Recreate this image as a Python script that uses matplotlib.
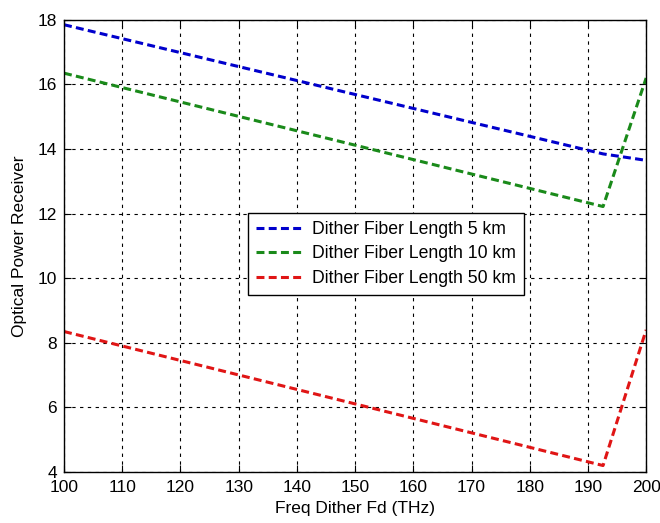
import matplotlib
matplotlib.use('Agg')
import matplotlib.pyplot as plt

plt.rcParams['font.family'] = ['Liberation Sans', 'DejaVu Sans']

freq = [100, 192.6, 200]
p_5km = [17.85, 13.85, 13.65]
p_10km = [16.35, 12.22, 16.2]
p_50km = [8.35, 4.2, 8.4]

fig = plt.figure(figsize=(6.6, 5.23), dpi=100)
ax = fig.add_axes([0.097, 0.0975, 0.882, 0.8645])

ax.plot(freq, p_5km, color='#0000cc', lw=2.2, dashes=(2.6, 1.4), label='Dither Fiber Length 5 km')
ax.plot(freq, p_10km, color='#1a8a1a', lw=2.2, dashes=(2.6, 1.4), label='Dither Fiber Length 10 km')
ax.plot(freq, p_50km, color='#e01515', lw=2.2, dashes=(2.6, 1.4), label='Dither Fiber Length 50 km')

ax.set_xlim(100, 200)
ax.set_ylim(4, 18)
ax.set_xticks(range(100, 201, 10))
ax.set_yticks(range(4, 19, 2))
ax.grid(True, color='black', linestyle=(0, (3, 4)), linewidth=0.8)
ax.tick_params(direction='in', labelsize=12.5, top=True, right=True, length=5)
ax.tick_params(axis='x', pad=6)
ax.tick_params(axis='y', pad=5)
for s in ax.spines.values():
    s.set_linewidth(1.0)

ax.set_xlabel('Freq Dither Fd (THz)', fontsize=12.5, labelpad=4)
ax.set_ylabel('Optical Power Receiver', fontsize=12.5, labelpad=8)

leg = ax.legend(loc='upper left', bbox_to_anchor=(0.316, 0.573), borderaxespad=0,
                fontsize=12.7, fancybox=False, framealpha=1, edgecolor='black',
                handlelength=2.7, handletextpad=0.5, borderpad=0.45, labelspacing=0.42)
leg.get_frame().set_linewidth(1.0)

fig.savefig('out.png', dpi=100)
